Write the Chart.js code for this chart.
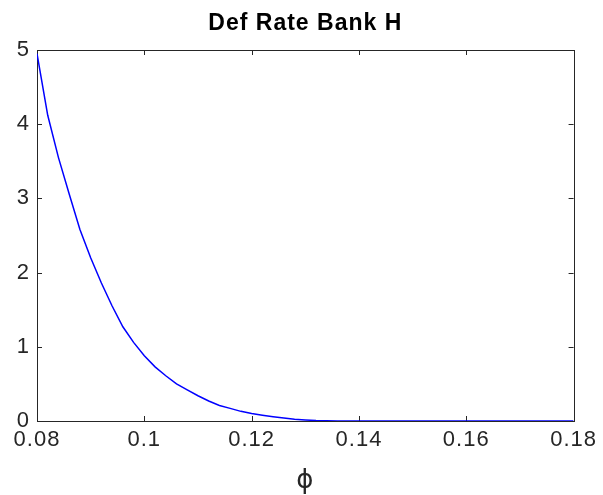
<!DOCTYPE html>
<html>
<head>
<meta charset="utf-8">
<script src="https://cdn.jsdelivr.net/npm/chart.js@4"></script>
<style>
  html, body { margin: 0; padding: 0; background: #fff; }
  canvas { display: block; }
</style>
</head>
<body>
<canvas id="myChart" width="603" height="495"></canvas>
<script>
// phi values (x) and default rate of bank H (y)
const phi = [0.080, 0.082, 0.084, 0.086, 0.088, 0.090, 0.092, 0.094, 0.096, 0.098,
             0.100, 0.102, 0.104, 0.106, 0.108, 0.110, 0.112, 0.114, 0.116, 0.118,
             0.120, 0.122, 0.124, 0.126, 0.128, 0.130, 0.132, 0.134, 0.136, 0.140,
             0.150, 0.160, 0.170, 0.180];
const defRate = [4.95, 4.12, 3.55, 3.06, 2.58, 2.20, 1.86, 1.55, 1.27, 1.06,
                 0.88, 0.73, 0.61, 0.50, 0.42, 0.34, 0.27, 0.21, 0.17, 0.13,
                 0.10, 0.078, 0.058, 0.04, 0.025, 0.014, 0.006, 0.002, 0, 0,
                 0, 0, 0, 0];
const xTickValues = [0.08, 0.10, 0.12, 0.14, 0.16, 0.18];
const xTickLabels = ['0.08', '0.1', '0.12', '0.14', '0.16', '0.18'];
const yTickValues = [0, 1, 2, 3, 4, 5];
const yTickLabels = ['0', '1', '2', '3', '4', '5'];

const axisColor = '#262626';

// the exported figure has slightly wide text, so spread the letters a bit
const spacingPlugin = {
    id: 'spacing',
    beforeUpdate(chart) { chart.ctx.letterSpacing = '1px'; },
    beforeDraw(chart) { chart.ctx.letterSpacing = '1px'; },
};

// matlab style box with ticks pointing inward on all four sides
const boxPlugin = {
    id: 'box',
    beforeDatasetsDraw(chart) {
        const ctx = chart.ctx;
        const a = chart.chartArea;
        const xs = chart.scales.x, ys = chart.scales.y;
        const len = 5;
        ctx.save();
        ctx.strokeStyle = axisColor;
        ctx.lineWidth = 1;
        ctx.strokeRect(Math.round(a.left) + 0.5, Math.round(a.top) + 0.5,
                       Math.round(a.right - a.left), Math.round(a.bottom - a.top));
        ctx.beginPath();
        xTickValues.forEach(v => {
            const px = Math.round(xs.getPixelForValue(v)) + 0.5;
            ctx.moveTo(px, a.bottom); ctx.lineTo(px, a.bottom - len);
            ctx.moveTo(px, a.top); ctx.lineTo(px, a.top + len);
        });
        yTickValues.forEach(v => {
            const py = Math.round(ys.getPixelForValue(v)) + 0.5;
            ctx.moveTo(a.left, py); ctx.lineTo(a.left + len, py);
            ctx.moveTo(a.right, py); ctx.lineTo(a.right - len, py);
        });
        ctx.stroke();
        ctx.restore();
    }
};

const ctx = document.getElementById('myChart').getContext('2d');
const myChart = new Chart(ctx, {
    type: 'line',
    data: {
        datasets: [{
            data: phi.map((x, i) => ({x: x, y: defRate[i]})),
            borderColor: '#0000ff',
            borderWidth: 1.5,
            pointRadius: 0,
            tension: 0,
            fill: false,
        }],
    },
    options: {
        responsive: false,
        animation: false,
        layout: { padding: { left: 0, right: 29, top: 0, bottom: 0 } },
        plugins: {
            legend: { display: false },
            tooltip: { enabled: false },
            title: {
                display: true,
                fullSize: false,
                text: 'Def Rate Bank H',
                color: '#000',
                font: { family: 'Liberation Sans, Arial, sans-serif', size: 23, weight: 'bold', lineHeight: 1.2 },
                padding: { top: 10, bottom: 12.4 },
            },
        },
        scales: {
            x: {
                type: 'linear',
                min: 0.08,
                max: 0.18,
                afterFit(scale) { scale.height = 74; },
                afterBuildTicks(scale) { scale.ticks = xTickValues.map(v => ({value: v})); },
                grid: { display: false, drawTicks: false },
                border: { display: false },
                ticks: {
                    color: axisColor,
                    padding: 6,
                    maxRotation: 0,
                    autoSkip: false,
                    font: { family: 'Liberation Sans, Arial, sans-serif', size: 22 },
                    callback: (v, i) => xTickLabels[i],
                },
                title: {
                    display: true,
                    text: 'ϕ',
                    color: axisColor,
                    font: { family: 'DejaVu Sans, sans-serif', size: 26, lineHeight: 1 },
                    padding: { top: 0, bottom: 1 },
                },
            },
            y: {
                type: 'linear',
                min: 0,
                max: 5,
                afterFit(scale) { scale.width = 37; },
                afterBuildTicks(scale) { scale.ticks = yTickValues.map(v => ({value: v})); },
                grid: { display: false, drawTicks: false },
                border: { display: false },
                ticks: {
                    color: axisColor,
                    padding: 7,
                    autoSkip: false,
                    font: { family: 'Liberation Sans, Arial, sans-serif', size: 22 },
                    callback: (v, i) => yTickLabels[i],
                },
            },
        },
    },
    plugins: [spacingPlugin, boxPlugin],
});
</script>
</body>
</html>
